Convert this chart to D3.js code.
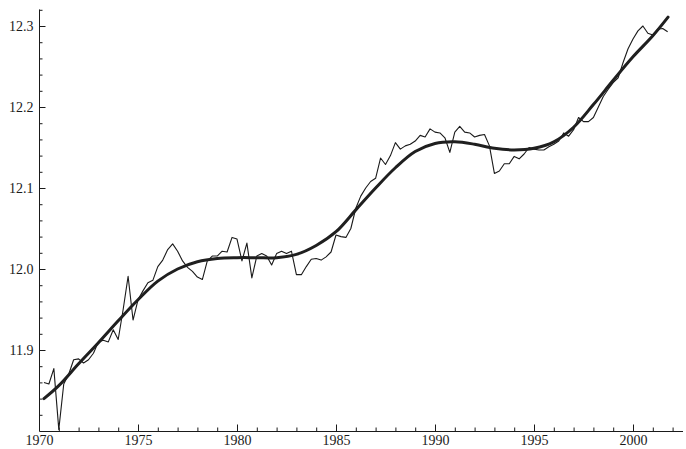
<!DOCTYPE html>
<html>
<head>
<meta charset="utf-8">
<script src="https://cdn.jsdelivr.net/npm/d3@7"></script>
<style>
  html, body { margin: 0; padding: 0; background: #fff; }
  svg { display: block; }
  .axis text { font-family: "Liberation Serif", "Times New Roman", serif; font-size: 14px; fill: #1a1a1a; }
  .axis line, .axis path { stroke: #1a1a1a; }
</style>
</head>
<body>
<svg id="chart"></svg>
<script>
// quarterly series, first observation 1970.25, one value per quarter
const firstQuarter = 1970.25;
const quarterly = [
  11.860, 11.858, 11.877, 11.802, 11.858, 11.870, 11.888, 11.889,
  11.884, 11.888, 11.896, 11.910, 11.912, 11.910, 11.925, 11.913,
  11.950, 11.991, 11.937, 11.962, 11.973, 11.983, 11.986, 12.003,
  12.011, 12.024, 12.031, 12.022, 12.010, 12.002, 11.997, 11.990,
  11.987, 12.010, 12.016, 12.016, 12.022, 12.021, 12.039, 12.037,
  12.010, 12.032, 11.989, 12.016, 12.019, 12.016, 12.005, 12.019,
  12.022, 12.019, 12.022, 11.993, 11.993, 12.003, 12.012, 12.013,
  12.011, 12.015, 12.021, 12.042, 12.040, 12.039, 12.050, 12.075,
  12.090, 12.100, 12.108, 12.112, 12.137, 12.129, 12.140, 12.156,
  12.148, 12.152, 12.154, 12.158, 12.165, 12.163, 12.173, 12.169,
  12.168, 12.162, 12.144, 12.169, 12.176, 12.169, 12.168, 12.163,
  12.165, 12.166, 12.152, 12.118, 12.121, 12.130, 12.130, 12.139,
  12.136, 12.142, 12.150, 12.148, 12.147, 12.147, 12.151, 12.154,
  12.158, 12.168, 12.164, 12.172, 12.187, 12.182, 12.182, 12.187,
  12.200, 12.213, 12.222, 12.230, 12.236, 12.255, 12.272, 12.284,
  12.294, 12.300, 12.291, 12.289, 12.296, 12.297, 12.293
];

// smooth trend
const trendYears = [1970.25, 1971, 1972, 1973, 1974, 1975, 1976, 1977, 1978, 1979, 1980,
  1981, 1982, 1983, 1984, 1985, 1986, 1987, 1988, 1989, 1990, 1991, 1992, 1993, 1994,
  1995, 1996, 1997, 1998, 1999, 2000, 2001, 2001.77];
const trendValues = [11.840, 11.856, 11.883, 11.909, 11.936, 11.962, 11.985, 12.000, 12.009,
  12.013, 12.014, 12.014, 12.014, 12.018, 12.029, 12.046, 12.073, 12.100, 12.125, 12.145,
  12.155, 12.157, 12.154, 12.149, 12.147, 12.149, 12.157, 12.175, 12.203, 12.233, 12.262,
  12.288, 12.311];

const xMajor = [1970, 1975, 1980, 1985, 1990, 1995, 2000];
const xMinor = d3.range(1971, 2003).filter(y => y % 5 !== 0);
const yMajor = [11.9, 12.0, 12.1, 12.2, 12.3];
const yMinor = [11.82, 11.84, 11.86, 11.88, 11.92, 11.94, 11.96, 11.98, 12.02, 12.04,
  12.06, 12.08, 12.12, 12.14, 12.16, 12.18, 12.22, 12.24, 12.26, 12.28, 12.32];

const width = 686, height = 449;
const margin = {top: 9, right: 3.5, bottom: 18, left: 39};

const svg = d3.select("#chart").attr("width", width).attr("height", height);

const x = d3.scaleLinear()
  .domain([1970, 2002.5])
  .range([margin.left, width - margin.right]);

const y = d3.scaleLinear()
  .domain([11.8, 12.321])
  .range([height - margin.bottom, margin.top]);

// axes
const xAxis = g => g
  .attr("transform", `translate(0,${height - margin.bottom})`)
  .attr("class", "axis")
  .call(d3.axisBottom(x).tickValues(xMajor).tickFormat(d3.format("d"))
    .tickSizeInner(-6.5).tickSizeOuter(0).tickPadding(4.5));

const xMinorAxis = g => g
  .attr("transform", `translate(0,${height - margin.bottom})`)
  .attr("class", "axis")
  .call(d3.axisBottom(x).tickValues(xMinor).tickFormat("")
    .tickSizeInner(-3.5).tickSizeOuter(0))
  .call(g => g.select(".domain").remove());

const yAxis = g => g
  .attr("transform", `translate(${margin.left},0)`)
  .attr("class", "axis")
  .call(d3.axisLeft(y).tickValues(yMajor).tickFormat(d3.format(".1f"))
    .tickSizeInner(-6.5).tickSizeOuter(0).tickPadding(5.5));

const yMinorAxis = g => g
  .attr("transform", `translate(${margin.left},0)`)
  .attr("class", "axis")
  .call(d3.axisLeft(y).tickValues(yMinor).tickFormat("")
    .tickSizeInner(-3.5).tickSizeOuter(0))
  .call(g => g.select(".domain").remove());

svg.append("g").call(xMinorAxis);
svg.append("g").call(yMinorAxis);
svg.append("g").call(xAxis);
svg.append("g").call(yAxis);

// thin quarterly line
const points = quarterly.map((v, i) => [firstQuarter + i * 0.25, v]);

const line = d3.line()
  .x(d => x(d[0]))
  .y(d => y(d[1]));

svg.append("path")
  .datum(points)
  .attr("fill", "none")
  .attr("stroke", "#1a1a1a")
  .attr("stroke-width", 1.1)
  .attr("stroke-linejoin", "round")
  .attr("d", line);

// thick trend line
const trend = trendYears.map((t, i) => [t, trendValues[i]]);

svg.append("path")
  .datum(trend)
  .attr("fill", "none")
  .attr("stroke", "#1f1f1f")
  .attr("stroke-width", 3)
  .attr("stroke-linecap", "round")
  .attr("d", line.curve(d3.curveCatmullRom.alpha(0.5)));
</script>
</body>
</html>
